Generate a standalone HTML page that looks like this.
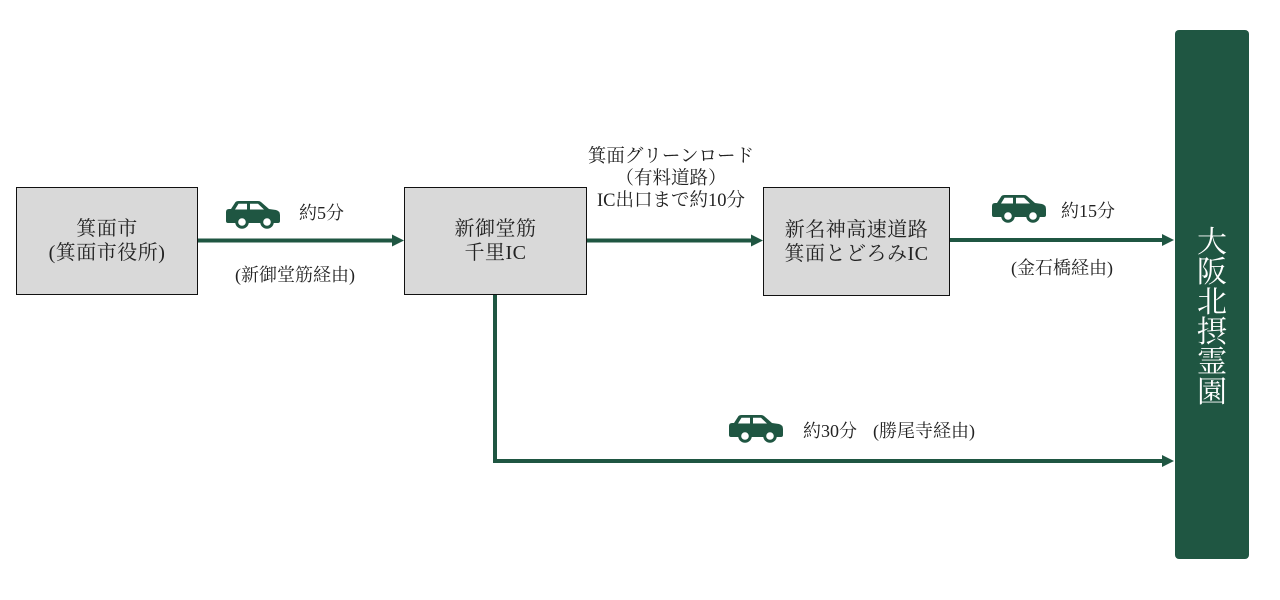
<!DOCTYPE html>
<html>
<head>
<meta charset="utf-8">
<style>
  html,body{margin:0;padding:0;background:#fff;}
  body{width:1280px;height:600px;position:relative;overflow:hidden;
    font-family:"Liberation Serif","Noto Serif CJK SC",serif;color:#222;}
  .box{position:absolute;background:#d9d9d9;border:1px solid #111;box-sizing:border-box;}
  .bt{position:absolute;left:0;right:0;text-align:center;font-size:20px;line-height:24px;white-space:nowrap;letter-spacing:0.5px;}
  .lbl{position:absolute;font-size:18px;line-height:22px;white-space:nowrap;}
  .c{text-align:center;}
  .panel{position:absolute;left:1175px;top:30px;width:74px;height:529px;background:#1f5642;border-radius:4px;}
  .ptxt{position:absolute;left:0;right:0;top:198px;text-align:center;color:#fff;font-size:30px;line-height:30px;}
  svg.lines{position:absolute;left:0;top:0;}
  .car{position:absolute;width:55px;height:28px;}
</style>
</head>
<body>

<svg class="lines" width="1280" height="600" viewBox="0 0 1280 600">
  <g fill="#1f5642" stroke="none">
    <rect x="197" y="238.5" width="196" height="4"/>
    <polygon points="392,234.5 404,240.5 392,246.5"/>
    <rect x="586" y="238.5" width="166" height="4"/>
    <polygon points="751,234.5 763,240.5 751,246.5"/>
    <rect x="949" y="238" width="214" height="4"/>
    <polygon points="1162,234 1174,240 1162,246"/>
    <rect x="493" y="294" width="4" height="169"/>
    <rect x="493" y="459" width="670" height="4"/>
    <polygon points="1162,455 1174,461 1162,467"/>
  </g>
</svg>

<div class="box" style="left:16px;top:187px;width:182px;height:108px;">
  <div class="bt" style="top:29px;">箕面市</div>
  <div class="bt" style="top:53px;">(箕面市役所)</div>
</div>

<div class="box" style="left:404px;top:187px;width:183px;height:108px;">
  <div class="bt" style="top:29px;">新御堂筋</div>
  <div class="bt" style="top:53px;">千里IC</div>
</div>

<div class="box" style="left:763px;top:187px;width:187px;height:109px;">
  <div class="bt" style="top:30px;">新名神高速道路</div>
  <div class="bt" style="top:54px;">箕面とどろみIC</div>
</div>

<div class="panel"><div class="ptxt">大<br>阪<br>北<br>摂<br>霊<br>園</div></div>

<svg class="car" style="left:226px;top:201px;" viewBox="0 0 55 28">
  <path fill="#1f5642" d="M0,11 Q0,8 3,8 L5,8 L9.5,1 Q10.5,0 12.5,0 L32,0 Q34,0 35,1 L43,8 L50,9 Q54,10 54,14 L54,20 Q54,22 52,22 L2,22 Q0,22 0,20 Z"/>
  <path fill="#fff" d="M12.5,2.8 L21,2.8 L21,8.5 L9,8.5 Z M24,2.8 L32,2.8 L38,8.5 L24,8.5 Z"/>
  <circle cx="16" cy="21" r="6.8" fill="#1f5642"/><circle cx="16" cy="21" r="3.8" fill="#fff"/>
  <circle cx="41" cy="21" r="6.8" fill="#1f5642"/><circle cx="41" cy="21" r="3.8" fill="#fff"/>
</svg>
<svg class="car" style="left:992px;top:195px;" viewBox="0 0 55 28">
  <path fill="#1f5642" d="M0,11 Q0,8 3,8 L5,8 L9.5,1 Q10.5,0 12.5,0 L32,0 Q34,0 35,1 L43,8 L50,9 Q54,10 54,14 L54,20 Q54,22 52,22 L2,22 Q0,22 0,20 Z"/>
  <path fill="#fff" d="M12.5,2.8 L21,2.8 L21,8.5 L9,8.5 Z M24,2.8 L32,2.8 L38,8.5 L24,8.5 Z"/>
  <circle cx="16" cy="21" r="6.8" fill="#1f5642"/><circle cx="16" cy="21" r="3.8" fill="#fff"/>
  <circle cx="41" cy="21" r="6.8" fill="#1f5642"/><circle cx="41" cy="21" r="3.8" fill="#fff"/>
</svg>
<svg class="car" style="left:729px;top:415px;" viewBox="0 0 55 28">
  <path fill="#1f5642" d="M0,11 Q0,8 3,8 L5,8 L9.5,1 Q10.5,0 12.5,0 L32,0 Q34,0 35,1 L43,8 L50,9 Q54,10 54,14 L54,20 Q54,22 52,22 L2,22 Q0,22 0,20 Z"/>
  <path fill="#fff" d="M12.5,2.8 L21,2.8 L21,8.5 L9,8.5 Z M24,2.8 L32,2.8 L38,8.5 L24,8.5 Z"/>
  <circle cx="16" cy="21" r="6.8" fill="#1f5642"/><circle cx="16" cy="21" r="3.8" fill="#fff"/>
  <circle cx="41" cy="21" r="6.8" fill="#1f5642"/><circle cx="41" cy="21" r="3.8" fill="#fff"/>
</svg>

<div class="lbl" style="left:299px;top:202px;">約5分</div>
<div class="lbl c" style="left:195px;width:200px;top:264px;">(新御堂筋経由)</div>

<div class="lbl c" style="left:571px;width:200px;top:146px;font-size:18.5px;">箕面グリーンロード</div>
<div class="lbl c" style="left:571px;width:200px;top:168px;font-size:18.5px;">（有料道路）</div>
<div class="lbl c" style="left:571px;width:200px;top:190px;font-size:18.5px;">IC出口まで約10分</div>

<div class="lbl" style="left:1061px;top:200px;">約15分</div>
<div class="lbl c" style="left:962px;width:200px;top:257px;">(金石橋経由)</div>

<div class="lbl" style="left:803px;top:420px;">約30分</div>
<div class="lbl" style="left:873px;top:420px;">(勝尾寺経由)</div>

</body>
</html>
